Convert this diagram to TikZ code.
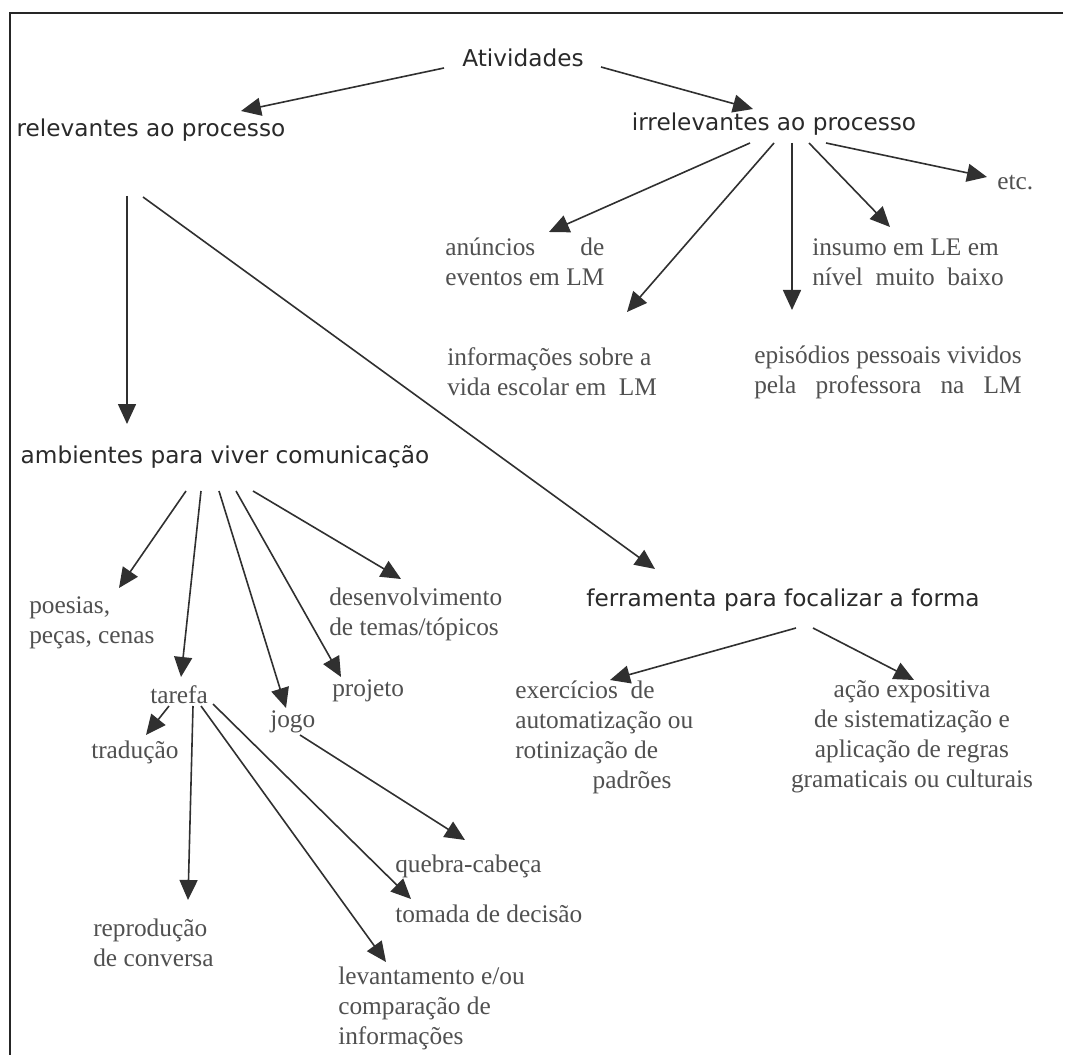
\documentclass[tikz,border=0pt]{standalone}
\usepackage{fontspec}
\usepackage{calc}
\setmainfont{Liberation Serif}
\newfontfamily\comicfont{DejaVu Sans}
\usetikzlibrary{arrows.meta}
\definecolor{inkc}{HTML}{2A2A2A}
\definecolor{inks}{HTML}{505050}
\definecolor{arrc}{HTML}{303030}
\tikzset{
  comic/.style={inner sep=0pt, text=inkc, font=\comicfont\fontsize{17.4}{21}\selectfont},
  serif/.style={inner sep=0pt, text=inks, align=left, font=\fontsize{19}{22.5}\selectfont},
  arr/.style={draw=arrc, line width=1.2pt, -{Triangle[length=15pt,width=13.5pt]}},
}
\begin{document}
\begin{tikzpicture}[x=0.75pt,y=-0.75pt]
\useasboundingbox[fill=white] (0,0) rectangle (1077,1055);
\draw[line width=1.5pt, draw=black!85] (1063,13) -- (10,13) -- (10,1055);

% main nodes
\node[comic] (atv) at (523,58) {Atividades};
\node[comic] (rel) at (151,130) {relevantes ao processo};
\node[comic] (irr) at (774,124) {irrelevantes ao processo};
\node[comic] (amb) at (225,457) {ambientes para viver comunicação};
\node[comic] (fer) at (783,600) {ferramenta para focalizar a forma};

% leaves
\node[serif, anchor=west] (etc) at (997,183) {etc.};
\node[serif, anchor=west] (anun) at (445,262) {\makebox[\widthof{eventos em LM}][s]{anúncios de}\\eventos em LM};
\node[serif, anchor=west] (ins) at (812,262) {insumo em LE em\\nível\ \ muito\ \ baixo};
\node[serif, anchor=west] (info) at (447,372) {informações sobre a\\vida escolar em\ \ LM};
\node[serif, anchor=west] (epi) at (754,372) {episódios pessoais vividos\\\makebox[\widthof{episódios pessoais vividos}][s]{pela professora na LM}};
\node[serif, anchor=west] (poe) at (29,623) {poesias,\\peças, cenas};
\node[serif, anchor=west] (des) at (329,614) {desenvolvimento\\de temas/tópicos};
\node[serif, anchor=west] (tar) at (150,695) {tarefa};
\node[serif, anchor=west] (proj) at (332,691) {projeto};
\node[serif, anchor=west] (jogo) at (270,722) {jogo};
\node[serif, anchor=west] (trad) at (91,752) {tradução};
\node[serif, anchor=west] (exer) at (515,737) {exercícios\ \ de\\automatização ou\\rotinização de\\\hspace*{58pt}padrões};
\node[serif, align=center] (acao) at (912,737) {ação expositiva\\de sistematização e\\aplicação de regras\\gramaticais ou culturais};
\node[serif, anchor=west] (queb) at (395,866) {quebra-cabeça};
\node[serif, anchor=west] (tom) at (395,914) {tomada de decisão};
\node[serif, anchor=west] (rep) at (93,943) {reprodução\\de conversa};
\node[serif, anchor=west] (lev) at (338,1008) {levantamento e/ou\\comparação de\\informações};

% connector end points
\coordinate (atv-l) at (444,68);   \coordinate (rel-t) at (241,111);
\coordinate (atv-r) at (601,67);   \coordinate (irr-t) at (753,109);
\coordinate (irr-s1) at (750,143); \coordinate (anun-t) at (549,232);
\coordinate (irr-s2) at (774,143); \coordinate (info-t) at (627,312);
\coordinate (irr-s3) at (792,143); \coordinate (epi-t) at (792,310);
\coordinate (irr-s4) at (809,143); \coordinate (ins-t) at (890,227);
\coordinate (irr-s5) at (826,143); \coordinate (etc-t) at (987,177);
\coordinate (rel-s1) at (127,196); \coordinate (amb-t) at (127,424);
\coordinate (rel-s2) at (143,197); \coordinate (fer-t) at (655,569);
\coordinate (amb-s1) at (186,491); \coordinate (poe-t) at (119,588);
\coordinate (amb-s2) at (201,491); \coordinate (tar-t) at (181,677);
\coordinate (amb-s3) at (219,491); \coordinate (jogo-t) at (286,708);
\coordinate (amb-s4) at (236,491); \coordinate (proj-t) at (341,677);
\coordinate (amb-s5) at (253,491); \coordinate (des-t) at (401,579);
\coordinate (fer-s1) at (796,628); \coordinate (exer-t) at (610,680);
\coordinate (fer-s2) at (813,628); \coordinate (acao-t) at (914,680);
\coordinate (tar-s1) at (169,706); \coordinate (trad-t) at (146,735);
\coordinate (tar-s2) at (193,706); \coordinate (rep-t) at (188,900);
\coordinate (tar-s3) at (201,706); \coordinate (lev-t) at (386,962);
\coordinate (tar-s4) at (213,704); \coordinate (tom-t) at (411,899);
\coordinate (jogo-s) at (300,735); \coordinate (queb-t) at (465,840);

% connectors
\draw[arr] (atv-l) -- (rel-t);
\draw[arr] (atv-r) -- (irr-t);
\draw[arr] (irr-s1) -- (anun-t);
\draw[arr] (irr-s2) -- (info-t);
\draw[arr] (irr-s3) -- (epi-t);
\draw[arr] (irr-s4) -- (ins-t);
\draw[arr] (irr-s5) -- (etc-t);
\draw[arr] (rel-s1) -- (amb-t);
\draw[arr] (rel-s2) -- (fer-t);
\draw[arr] (amb-s1) -- (poe-t);
\draw[arr] (amb-s2) -- (tar-t);
\draw[arr] (amb-s3) -- (jogo-t);
\draw[arr] (amb-s4) -- (proj-t);
\draw[arr] (amb-s5) -- (des-t);
\draw[arr] (fer-s1) -- (exer-t);
\draw[arr] (fer-s2) -- (acao-t);
\draw[arr] (tar-s1) -- (trad-t);
\draw[arr] (tar-s2) -- (rep-t);
\draw[arr] (tar-s3) -- (lev-t);
\draw[arr] (tar-s4) -- (tom-t);
\draw[arr] (jogo-s) -- (queb-t);
\end{tikzpicture}
\end{document}
